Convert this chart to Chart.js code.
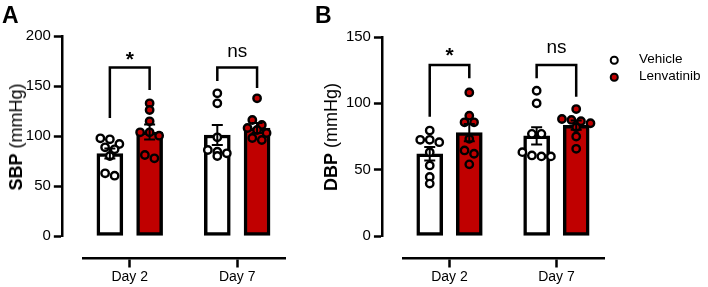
<!DOCTYPE html>
<html><head><meta charset="utf-8">
<script src="https://cdn.jsdelivr.net/npm/chart.js@4/dist/chart.umd.min.js"></script>
<style>
html,body{margin:0;padding:0;background:#fff;}
#wrap{position:relative;width:708px;height:287px;overflow:hidden;font-family:"Liberation Sans",Arial,sans-serif;color:#000}
canvas{position:absolute;top:0}
.plabel{position:absolute;font-weight:bold;font-size:23px;line-height:1}
.ytitle{position:absolute;font-size:18px;white-space:nowrap;transform:translate(-50%,-50%) rotate(-90deg);line-height:1}
.li{position:absolute;white-space:nowrap;line-height:1;font-size:13.5px;transform:translateY(-50%)}
.dot{position:absolute;width:4.5px;height:4.5px;border:2px solid #000;border-radius:50%;transform:translate(-50%,-50%)}
</style></head>
<body><div id="wrap">
<canvas id="cA" width="330" height="287" style="left:0"></canvas>
<canvas id="cB" width="378" height="287" style="left:330px"></canvas>
<div class="plabel" style="left:2px;top:4px">A</div>
<div class="plabel" style="left:315px;top:4px">B</div>
<div class="ytitle" style="left:16px;top:137px"><b>SBP</b> (mmHg)</div>
<div class="ytitle" style="left:331px;top:137px"><b>DBP</b> (mmHg)</div>
<div id="legend"></div>
</div>
<script>
// ---------- DATA ----------
const categories = ['Day 2', 'Day 7'];
const seriesNames = ['Vehicle', 'Lenvatinib'];

// Panel A: SBP (mmHg)
const sbpTicks = [0, 50, 100, 150, 200];
const sbpVehicleMean = [82.5, 101];
const sbpVehicleSem = [5, 10];
const sbpLenvatinibMean = [104, 108];
const sbpLenvatinibSem = [7.5, 5];
const sbpVehicleDay2 = [97.7, 96.7, 92, 88.7, 86.7, 80, 62.7, 60.3];
const sbpVehicleDay7 = [142.7, 132.7, 98.7, 86, 84.3, 82.7, 80];
const sbpLenvatinibDay2 = [132.7, 126, 114.7, 103.7, 103.7, 100.3, 81, 77.7];
const sbpLenvatinibDay7 = [137.7, 116, 111, 108, 106, 103, 98, 96];
const sbpBracketTop = [168.5, 168.5];
const sbpBracketLeftEnd = [118, 155];
const sbpBracketRightEnd = [146, 148];
const sbpSigLabels = ['*', 'ns'];
const sbpSigLabelY = [179, 179];

// Panel B: DBP (mmHg)
const dbpTicks = [0, 50, 100, 150];
const dbpVehicleMean = [62, 75.5];
const dbpVehicleSem = [5, 6.5];
const dbpLenvatinibMean = [78, 83.5];
const dbpLenvatinibSem = [6.5, 3.5];
const dbpVehicleDay2 = [79.5, 72.5, 72.5, 70.7, 63.2, 53.2, 44.5, 39.5];
const dbpVehicleDay7 = [109.5, 100, 77, 77, 63.2, 60.7, 60, 60];
const dbpLenvatinibDay2 = [108.2, 90.7, 85.7, 85.7, 73.2, 64.5, 62, 54];
const dbpLenvatinibDay7 = [95.7, 88.2, 87.5, 86.5, 85, 82, 75, 65.7];
const dbpBracketTop = [128.9, 128.9];
const dbpBracketLeftEnd = [89.9, 118.9];
const dbpBracketRightEnd = [118.9, 105];
const dbpSigLabels = ['*', 'ns'];
const dbpSigLabelY = [137.7, 137.7];

// ---------- STYLE ----------
const RED = '#c00000';
const FONT = '"Liberation Sans", Arial, sans-serif';
const GROUP_OFF = 0.185;   // half-distance between the two bars of a day, in category units
const Y_AXIS_AT = -0.632;  // x-value where the (detached) y axis is drawn
const seriesFill = ['#ffffff', RED];

// GraphPad-like scatter: points binned into rows, each row centred
function rowScatter(values, toPx, rowH, step) {
  const order = values.map((v, i) => i).sort((a, b) => values[b] - values[a]);
  const out = new Array(values.length);
  let k = 0;
  while (k < order.length) {
    const y0 = toPx(values[order[k]]);
    let j = k;
    while (j < order.length && toPx(values[order[j]]) - y0 < rowH) j++;
    const n = j - k;
    for (let m = 0; m < n; m++) out[order[k + m]] = (m - (n - 1) / 2) * step;
    k = j;
  }
  return out;
}

// detach the y axis from the plot area (GraphPad-style offset axes)
const detachPlugin = {
  id: 'detach',
  afterLayout(chart) {
    const y = chart.scales.y;
    const target = chart.scales.x.getPixelForValue(Y_AXIS_AT);
    const d = y.right - target;
    y.left -= d; y.right -= d;
  }
};

const annotPlugin = {
  id: 'annot',
  afterDatasetsDraw(chart) {
    const P = chart.options.plugins.annot;
    const {ctx} = chart;
    const xs = chart.scales.x, ys = chart.scales.y;
    ctx.save();
    ctx.strokeStyle = '#000';
    ctx.lineCap = 'butt';
    ctx.lineWidth = 2;
    P.errors.forEach((s, si) => {
      s.mean.forEach((m, i) => {
        const cx = xs.getPixelForValue(i + (si === 0 ? -GROUP_OFF : GROUP_OFF));
        const yt = ys.getPixelForValue(m + s.sem[i]);
        const yb = ys.getPixelForValue(m - s.sem[i]);
        ctx.beginPath();
        ctx.moveTo(cx, yt); ctx.lineTo(cx, yb);
        ctx.moveTo(cx - 5.5, yt); ctx.lineTo(cx + 5.5, yt);
        ctx.moveTo(cx - 5.5, yb); ctx.lineTo(cx + 5.5, yb);
        ctx.stroke();
      });
    });
    ctx.lineWidth = 2.5;
    ctx.lineJoin = 'miter';
    P.top.forEach((t, i) => {
      const xl = xs.getPixelForValue(i - GROUP_OFF), xr = xs.getPixelForValue(i + GROUP_OFF);
      ctx.beginPath();
      ctx.moveTo(xl, ys.getPixelForValue(P.left[i]));
      ctx.lineTo(xl, ys.getPixelForValue(t));
      ctx.lineTo(xr, ys.getPixelForValue(t));
      ctx.lineTo(xr, ys.getPixelForValue(P.right[i]));
      ctx.stroke();
      const lab = P.labels[i];
      ctx.fillStyle = '#000';
      ctx.textAlign = 'center';
      ctx.textBaseline = 'alphabetic';
      const cx = xs.getPixelForValue(i);
      const by = ys.getPixelForValue(P.labelY[i]);
      if (lab === '*') {
        ctx.font = 'bold 21px ' + FONT;
        ctx.fillText(lab, cx, by + 9);
      } else {
        ctx.font = '19px ' + FONT;
        ctx.fillText(lab, cx, by);
      }
    });
    ctx.restore();
  }
};

function makePanel(id, cfg) {
  const barDs = (means, si) => ({
    type: 'bar', label: seriesNames[si],
    data: means.map((m, i) => ({x: i + (si === 0 ? -GROUP_OFF : GROUP_OFF), y: m})),
    backgroundColor: seriesFill[si], borderColor: '#000', borderWidth: 3.5,
    borderSkipped: false, barThickness: 26, grouped: false, order: 3
  });
  const ptDs = (si) => ({
    type: 'scatter', label: seriesNames[si], data: [], showLine: false,
    pointRadius: 3.7, pointBorderWidth: 2.4, pointBackgroundColor: seriesFill[si],
    pointBorderColor: '#000', order: 1
  });
  const chart = new Chart(document.getElementById(id), {
    type: 'bar',
    data: { datasets: [barDs(cfg.vehMean, 0), barDs(cfg.lenMean, 1), ptDs(0), ptDs(1)] },
    options: {
      responsive: false, animation: false, devicePixelRatio: 1, events: [],
      layout: { padding: cfg.padding },
      plugins: {
        legend: { display: false }, tooltip: { enabled: false },
        annot: {
          errors: [{mean: cfg.vehMean, sem: cfg.vehSem}, {mean: cfg.lenMean, sem: cfg.lenSem}],
          top: cfg.bTop, left: cfg.bLeft, right: cfg.bRight, labels: cfg.sig, labelY: cfg.sigY
        }
      },
      scales: {
        x: {
          type: 'linear', min: -0.435, max: 1.445, position: {y: cfg.xAxisAt}, offset: false,
          afterBuildTicks: s => { s.ticks = categories.map((c, i) => ({value: i})); },
          ticks: { callback: v => categories[v], font: {size: 14, family: FONT}, color: '#000', padding: 3, maxRotation: 0, autoSkip: false },
          grid: { offset: false, drawOnChartArea: false, drawTicks: true, tickLength: 8, tickWidth: 2.5, color: '#000' },
          border: { display: true, width: 2.5, color: '#000' }
        },
        y: {
          type: 'linear', min: cfg.ticks[0], max: cfg.ticks[cfg.ticks.length - 1], position: 'left',
          afterBuildTicks: s => { s.ticks = cfg.ticks.map(v => ({value: v})); },
          afterFit: s => { s.width = 40; },
          ticks: { font: {size: 15, family: FONT}, color: '#000', padding: 3 },
          grid: { drawOnChartArea: false, drawTicks: true, tickLength: 8, tickWidth: 2.5, color: '#000' },
          border: { display: true, width: 2.5, color: '#000' }
        }
      }
    },
    plugins: [detachPlugin, annotPlugin]
  });
  const xs = chart.scales.x, ys = chart.scales.y;
  const pxPerUnit = xs.getPixelForValue(1) - xs.getPixelForValue(0);
  [[cfg.vehPts, 2, -GROUP_OFF], [cfg.lenPts, 3, GROUP_OFF]].forEach(([groups, dsi, off]) => {
    const arr = [];
    groups.forEach((vals, ci) => {
      const offs = rowScatter(vals, v => ys.getPixelForValue(v), 6, 9.5);
      vals.forEach((v, k) => arr.push({x: ci + off + offs[k] / pxPerUnit, y: v}));
    });
    chart.data.datasets[dsi].data = arr;
  });
  chart.update('none');
  return chart;
}

makePanel('cA', {
  padding: {left: 43, right: 45, top: 36, bottom: 51}, xAxisAt: -22, ticks: sbpTicks,
  vehMean: sbpVehicleMean, vehSem: sbpVehicleSem, lenMean: sbpLenvatinibMean, lenSem: sbpLenvatinibSem,
  vehPts: [sbpVehicleDay2, sbpVehicleDay7], lenPts: [sbpLenvatinibDay2, sbpLenvatinibDay7],
  bTop: sbpBracketTop, bLeft: sbpBracketLeftEnd, bRight: sbpBracketRightEnd, sig: sbpSigLabels, sigY: sbpSigLabelY
});
makePanel('cB', {
  padding: {left: 33, right: 104, top: 37, bottom: 51}, xAxisAt: -16.58, ticks: dbpTicks,
  vehMean: dbpVehicleMean, vehSem: dbpVehicleSem, lenMean: dbpLenvatinibMean, lenSem: dbpLenvatinibSem,
  vehPts: [dbpVehicleDay2, dbpVehicleDay7], lenPts: [dbpLenvatinibDay2, dbpLenvatinibDay7],
  bTop: dbpBracketTop, bLeft: dbpBracketLeftEnd, bRight: dbpBracketRightEnd, sig: dbpSigLabels, sigY: dbpSigLabelY
});

const lg = document.getElementById('legend');
seriesNames.forEach((n, i) => {
  const y = 60 + i * 17;
  const d = document.createElement('div');
  d.className = 'dot'; d.style.left = '614px'; d.style.top = y + 'px'; d.style.background = seriesFill[i];
  lg.appendChild(d);
  const t = document.createElement('div');
  t.className = 'li'; t.style.left = '639px'; t.style.top = (y - 1) + 'px'; t.textContent = n;
  lg.appendChild(t);
});
</script>
</body></html>
